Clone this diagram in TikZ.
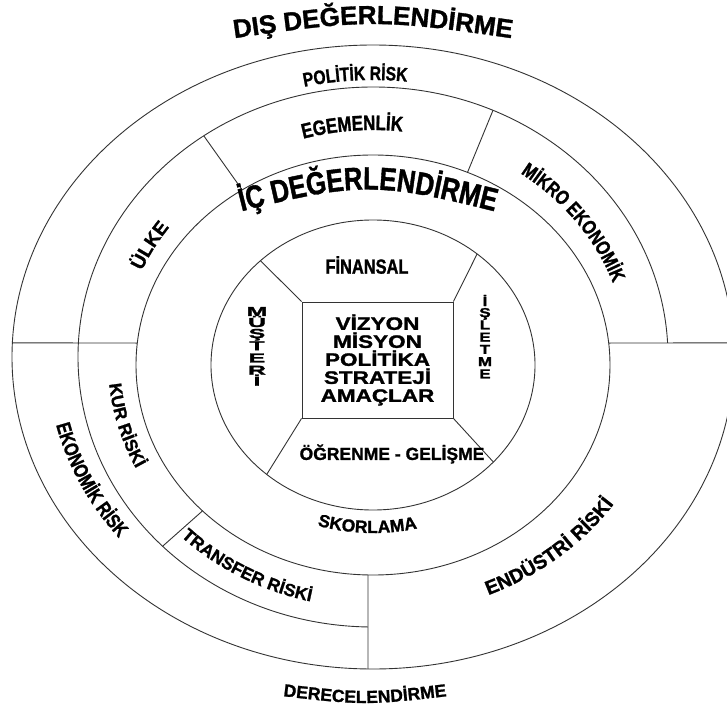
\documentclass[tikz,border=0pt]{standalone}
\usepackage{graphicx}
\usepackage{fontspec}
\setmainfont{Liberation Sans}[BoldFeatures={FakeBold=1.2}]
\newfontfamily\darfont{Liberation Sans}[FakeStretch=0.8, BoldFeatures={FakeBold=1.2}]
\newfontfamily\genisfont{Liberation Sans}[FakeStretch=1.25, BoldFeatures={FakeBold=1.5}]
\newfontfamily\dikfont{Liberation Sans}[BoldFeatures={FakeBold=1.5}]
\usetikzlibrary{calc, decorations.text}

\begin{document}
\begin{tikzpicture}[x=1pt, y=1pt,
    cizgi/.style={draw=black!80, line width=0.9pt},
    dikey/.style={font=\dikfont\bfseries\fontsize{13}{11}\selectfont},
    yazi/.style={decorate, decoration={text along path, text align=center, text={#1}}}]
    \path[use as bounding box, fill=white] (-373,-347) rectangle (354,360);
    \coordinate (dis) at (0,3);
    \coordinate (ic) at (0,-5);

    % 1. Elipsler
    \draw[cizgi] (dis) ellipse [x radius=361pt, y radius=312pt];
    \draw[cizgi] ($(dis)+(3:295pt and 270pt)$)
        arc[start angle=3, end angle=269, x radius=295pt, y radius=270pt];
    \draw[cizgi] (ic) ellipse [x radius=237pt, y radius=210pt];
    \draw[cizgi] (ic) ellipse [x radius=162pt, y radius=145pt];

    % 2. Ayırıcı çizgiler
    \draw[cizgi] ($(dis)+(177.4:361pt and 312pt)$) -- ($(ic)+(174:237pt and 210pt)$);
    \draw[cizgi] ($(ic)+(6:237pt and 210pt)$) -- ($(dis)+(2.6:361pt and 312pt)$);
    \draw[cizgi] ($(ic)+(268.8:237pt and 210pt)$) -- ($(dis)+(269.2:361pt and 312pt)$);
    \draw[cizgi] ($(dis)+(125:295pt and 270pt)$) -- ($(ic)+(123.5:237pt and 210pt)$);
    \draw[cizgi] ($(dis)+(66:295pt and 270pt)$) -- ($(ic)+(66.5:237pt and 210pt)$);
    \draw[cizgi] ($(ic)+(224:237pt and 210pt)$) -- ($(dis)+(224.5:295pt and 270pt)$);

    % 3. Merkez kare
    \node[cizgi, minimum width=151pt, minimum height=116pt, inner sep=0pt, align=center,
        font=\genisfont\bfseries\fontsize{18}{18}\selectfont] (merkez) at (4.5,0)
        {VİZYON\\MİSYON\\POLİTİKA\\STRATEJİ\\AMAÇLAR};
    \draw[cizgi] (merkez.north west) -- ($(ic)+(134:162pt and 145pt)$);
    \draw[cizgi] (merkez.north east) -- ($(ic)+(50:162pt and 145pt)$);
    \draw[cizgi] (merkez.south west) -- ($(ic)+(229:162pt and 145pt)$);
    \draw[cizgi] (merkez.south east) -- ($(ic)+(318:162pt and 145pt)$);

    % 4. Düz yazılar
    \node[font=\darfont\bfseries\fontsize{20.5}{20.5}\selectfont] (finansal) at (-6,95) {FİNANSAL};
    \node[font=\bfseries\fontsize{17.5}{17.5}\selectfont] (ogrenme) at (19,-94) {ÖĞRENME - GELİŞME};
    \node[dikey] (musteri) at (-116,12)
        {\scalebox{1.9}[1]{\begin{tabular}{@{}c@{}}M\\\smash{Ü}\\\smash{Ş}\\T\\E\\R\\\smash{İ}\end{tabular}}};
    \node[dikey] (isletme) at (112,20)
        {\scalebox{1.3}[1]{\begin{tabular}{@{}c@{}}\smash{İ}\\\smash{Ş}\\L\\E\\T\\M\\E\end{tabular}}};

    % 5. Eğri yazılar
    \path[yazi={|\bfseries\fontsize{26}{26}\selectfont|DIŞ DEĞERLENDİRME}]
        (-165,318) .. controls (0,342) .. (165,318);
    \path[yazi={|\darfont\bfseries\fontsize{19.5}{19.5}\selectfont|POLİTİK RİSK}]
        ($(dis)+(120:312pt and 277pt)$) arc[start angle=120, end angle=66.6, x radius=312pt, y radius=277pt];
    \path[yazi={|\darfont\bfseries\fontsize{21}{21}\selectfont|EGEMENLİK}]
        ($(0,-1)+(125:256pt and 231pt)$) arc[start angle=125, end angle=64.4, x radius=256pt, y radius=231pt];
    \path[yazi={|\darfont\bfseries\fontsize{32}{32}\selectfont|İÇ DEĞERLENDİRME}]
        (-170,139) .. controls (-5,181) .. (160,139);
    \path[yazi={|\bfseries\fontsize{19}{19}\selectfont|ÜLKE}]
        ($(0,-1)+(170:252pt and 227pt)$) arc[start angle=170, end angle=131, x radius=252pt, y radius=227pt];
    \path[yazi={|\darfont\bfseries\fontsize{20}{20}\selectfont|MİKRO EKONOMİK}]
        ($(0,-1)+(61:255pt and 230pt)$) arc[start angle=61, end angle=13, x radius=255pt, y radius=230pt];
    \path[yazi={|\bfseries\fontsize{17.5}{17.5}\selectfont|KUR RİSKİ}]
        ($(0,-1)+(180:265pt and 240pt)$) arc[start angle=180, end angle=212, x radius=265pt, y radius=240pt];
    \path[yazi={|\darfont\bfseries\fontsize{20}{20}\selectfont|EKONOMİK RİSK}]
        ($(dis)+(186:326pt and 289pt)$) arc[start angle=186, end angle=226, x radius=326pt, y radius=289pt];
    \path[yazi={|\bfseries\fontsize{17.5}{17.5}\selectfont|TRANSFER RİSKİ}]
        ($(0,-1)+(223:273pt and 247pt)$) arc[start angle=223, end angle=259, x radius=273pt, y radius=247pt];
    \path[yazi={|\bfseries\fontsize{19.5}{19.5}\selectfont|ENDÜSTRİ RİSKİ}]
        ($(0,-1)+(285:291pt and 255pt)$) arc[start angle=285, end angle=335, x radius=291pt, y radius=255pt];
    \path[yazi={|\bfseries\fontsize{17.5}{17.5}\selectfont|SKORLAMA}]
        ($(ic)+(240:189pt and 168pt)$) arc[start angle=240, end angle=296.4, x radius=189pt, y radius=168pt];
    \path[yazi={|\bfseries\fontsize{17.5}{17.5}\selectfont|DERECELENDİRME}]
        (-108,-334) .. controls (-8,-346) .. (92,-334);
\end{tikzpicture}
\end{document}
